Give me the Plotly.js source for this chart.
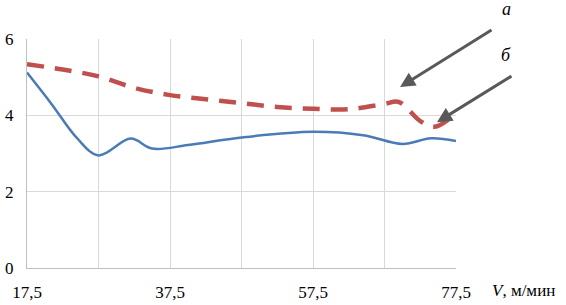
<!DOCTYPE html>
<html><head><meta charset="utf-8">
<script src="https://cdn.plot.ly/plotly-3.0.1.min.js"></script>
<style>body{margin:0;background:#fff}#c{width:566px;height:305px}</style>
</head><body><div id="c"></div>
<script>
const blueV = [17.5, 21, 24.5, 27.5, 32, 35, 40, 47.5, 57.5, 64.5, 70, 74, 77.5];
const blueY = [5.12, 4.28, 3.4, 2.95, 3.39, 3.13, 3.22, 3.42, 3.57, 3.48, 3.25, 3.40, 3.33];
const redV = [17.5, 22.5, 27.5, 32.5, 37.5, 42.5, 47.5, 52.5, 57.5, 62.5, 67.5, 69.5, 72.5, 74.5, 77.5];
const redY = [5.34, 5.2, 5.02, 4.72, 4.53, 4.42, 4.32, 4.22, 4.17, 4.16, 4.3, 4.35, 3.85, 3.7, 4.05];
const xTicks = [17.5, 37.5, 57.5, 77.5];
const xTickText = ["17,5", "37,5", "57,5", "77,5"];
const yTicks = [0, 2, 4, 6];

const serif = 'Liberation Serif, Times New Roman, serif';
const data = [
  {x: [17.5], y: [0], xaxis: "x2", yaxis: "y", mode: "markers", marker: {opacity: 0}, hoverinfo: "skip"},
  {x: redV, y: redY, mode: "lines", line: {color: "#c0504d", width: 4.5, dash: "17px,11px", shape: "spline", smoothing: 1}, hoverinfo: "skip"},
  {x: blueV, y: blueY, mode: "lines", line: {color: "#4a7bb7", width: 2.5, shape: "spline", smoothing: 1}, hoverinfo: "skip"}
];
const layout = {
  width: 566, height: 305,
  margin: {l: 27, r: 110, t: 39, b: 37},
  paper_bgcolor: "#fff", plot_bgcolor: "#fff",
  showlegend: false,
  font: {family: serif, size: 17, color: "#000"},
  xaxis: {range: [17.5, 77.5], tickvals: xTicks, ticktext: xTickText, showgrid: false,
          zeroline: false, showline: true, linecolor: "#bfbfbf", linewidth: 1, ticks: "", ticklabelstandoff: 9,
          tickfont: {family: serif, size: 17}, fixedrange: true},
  xaxis2: {overlaying: "x", range: [17.5, 77.5], dtick: 10, tick0: 17.5, showgrid: true, gridcolor: "#d9d9d9",
           showticklabels: false, zeroline: false, matches: "x"},
  yaxis: {range: [0, 6], tickvals: yTicks, showgrid: true, gridcolor: "#d9d9d9", gridwidth: 1,
          zeroline: false, showline: true, linecolor: "#bfbfbf", linewidth: 1, ticks: "", ticklabelstandoff: 9,
          tickfont: {family: serif, size: 17}, fixedrange: true},
  annotations: [
    {x: 69.67, y: 4.74, xref: "x", yref: "y", ax: 93, ay: -58, showarrow: true, arrowhead: 2, arrowsize: 1, arrowwidth: 3, arrowcolor: "#595959", text: ""},
    {x: 74.84, y: 3.82, xref: "x", yref: "y", ax: 76, ay: -47, showarrow: true, arrowhead: 2, arrowsize: 1, arrowwidth: 3, arrowcolor: "#595959", text: ""},
    {x: 1.133, y: 1.185, xref: "paper", yref: "paper", showarrow: false, text: "<i>а</i>", font: {family: serif, size: 18}},
    {x: 1.133, y: 0.982, xref: "paper", yref: "paper", showarrow: false, text: "<i>б</i>", font: {family: serif, size: 18}},
    {x: 1.08, y: -0.1, xref: "paper", yref: "paper", xanchor: "left", yanchor: "middle", showarrow: false, text: "<i>V</i>, м/мин", font: {family: serif, size: 17}}
  ]
};
Plotly.newPlot("c", data, layout, {staticPlot: true});
</script></body></html>
